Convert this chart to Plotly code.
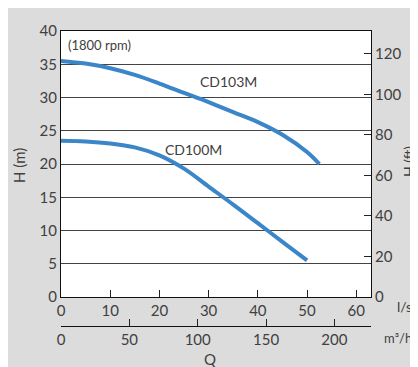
import plotly.graph_objects as go

# Data (Q in l/s, H in m)
q_cd103 = [0, 5, 10, 15, 20, 25, 30, 35, 40, 45, 50, 52.5]
h_cd103 = [35.5, 35.1, 34.4, 33.4, 32.1, 30.7, 29.3, 27.8, 26.3, 24.4, 21.8, 20.0]
q_cd100 = [0, 5, 10, 15, 20, 25, 30, 35, 40, 45, 50]
h_cd100 = [23.5, 23.4, 23.1, 22.5, 21.3, 19.3, 16.6, 13.9, 11.1, 8.3, 5.5]

ls_ticks = [0, 10, 20, 30, 40, 50, 60]
m3h_ticks = [0, 50, 100, 150, 200]
m_ticks = [0, 5, 10, 15, 20, 25, 30, 35, 40]
ft_ticks = [0, 20, 40, 60, 80, 100, 120]

Q_MAX = 63.0
H_MAX = 40.0

OFF = 8  # page body margin
W, H = 418 - OFF, 367 - OFF
# positions in window pixels
L, R, T, B = 61, 371, 31, 326
AX_BOTTOM = 297

def px(x):
    return (x - L) / (R - L)

def py(y):
    return (B - y) / (B - T)

FONT = "Lato"
TXT = "#404040"
BLUE = "#3a86c8"

fig = go.Figure()
fig.add_trace(go.Scatter(x=q_cd103, y=h_cd103, mode="lines", line=dict(color=BLUE, width=4, shape="spline"),
                         showlegend=False, hoverinfo="skip"))
fig.add_trace(go.Scatter(x=q_cd100, y=h_cd100, mode="lines", line=dict(color=BLUE, width=4, shape="spline"),
                         showlegend=False, hoverinfo="skip"))
# dummy traces to activate secondary axes
fig.add_trace(go.Scatter(x=[0, Q_MAX * 3.6], y=[None, None], xaxis="x2", yaxis="y", showlegend=False, hoverinfo="skip"))
fig.add_trace(go.Scatter(x=[0, Q_MAX], y=[None, None], xaxis="x", yaxis="y2", showlegend=False, hoverinfo="skip"))

tickfont = dict(family=FONT, size=15, color=TXT)

fig.update_layout(
    width=W, height=H,
    margin=dict(l=L - OFF, r=418 - R, t=T - OFF, b=367 - B, pad=0),
    paper_bgcolor="#dcdcdc",
    plot_bgcolor="white",
    showlegend=False,
    xaxis=dict(range=[0, Q_MAX], tickvals=ls_ticks, ticktext=[str(v) for v in ls_ticks],
               ticks="inside", ticklen=7, tickcolor="#222", tickwidth=1,
               showline=True, linecolor="#111", linewidth=1, mirror=True,
               showgrid=False, zeroline=False, tickfont=tickfont, anchor="y"),
    xaxis2=dict(range=[0, Q_MAX * 3.6], tickvals=m3h_ticks, ticktext=[str(v) for v in m3h_ticks],
                ticks="inside", ticklen=7, tickcolor="#222", tickwidth=1,
                showline=True, linecolor="#111", linewidth=1,
                showgrid=False, zeroline=False, tickfont=tickfont,
                overlaying="x", anchor="free", position=0, side="bottom"),
    yaxis=dict(range=[0, H_MAX], domain=[py(AX_BOTTOM), 1], tickvals=m_ticks,
               ticktext=[str(v) for v in m_ticks],
               ticks="", showline=True, linecolor="#111", linewidth=1,
               showgrid=True, gridcolor="#444", gridwidth=1, zeroline=False,
               tickfont=tickfont),
    yaxis2=dict(range=[0, H_MAX / 0.3048], tickvals=ft_ticks, ticktext=[str(v) for v in ft_ticks],
                overlaying="y", side="right", anchor="x",
                ticks="inside", ticklen=7, tickcolor="#222", tickwidth=1,
                showline=True, linecolor="#111", linewidth=1,
                showgrid=False, zeroline=False, tickfont=tickfont),
)

def ann(text, x, y, size=14, angle=0, xanchor="center"):
    fig.add_annotation(text=text, x=px(x), y=py(y), xref="paper", yref="paper", showarrow=False,
                       xanchor=xanchor, yanchor="middle", textangle=angle,
                       font=dict(family=FONT, size=size, color=TXT))

ann("(1800 rpm)", 66, 45, size=13, xanchor="left")
ann("CD103M", 228, 81, size=14)
ann("CD100M", 193, 149, size=14)
ann("H (m)", 19, 165, size=15, angle=-90)
ann("H (ft)", 408, 162, size=14, angle=-90)
ann("l/s", 404, 306, size=14)
ann("m³/h", 398, 338, size=13)
ann("Q", 210, 359, size=15)

fig.write_html("out.html",
               post_script="document.documentElement.style.overflow='hidden';document.body.style.overflow='hidden';")
